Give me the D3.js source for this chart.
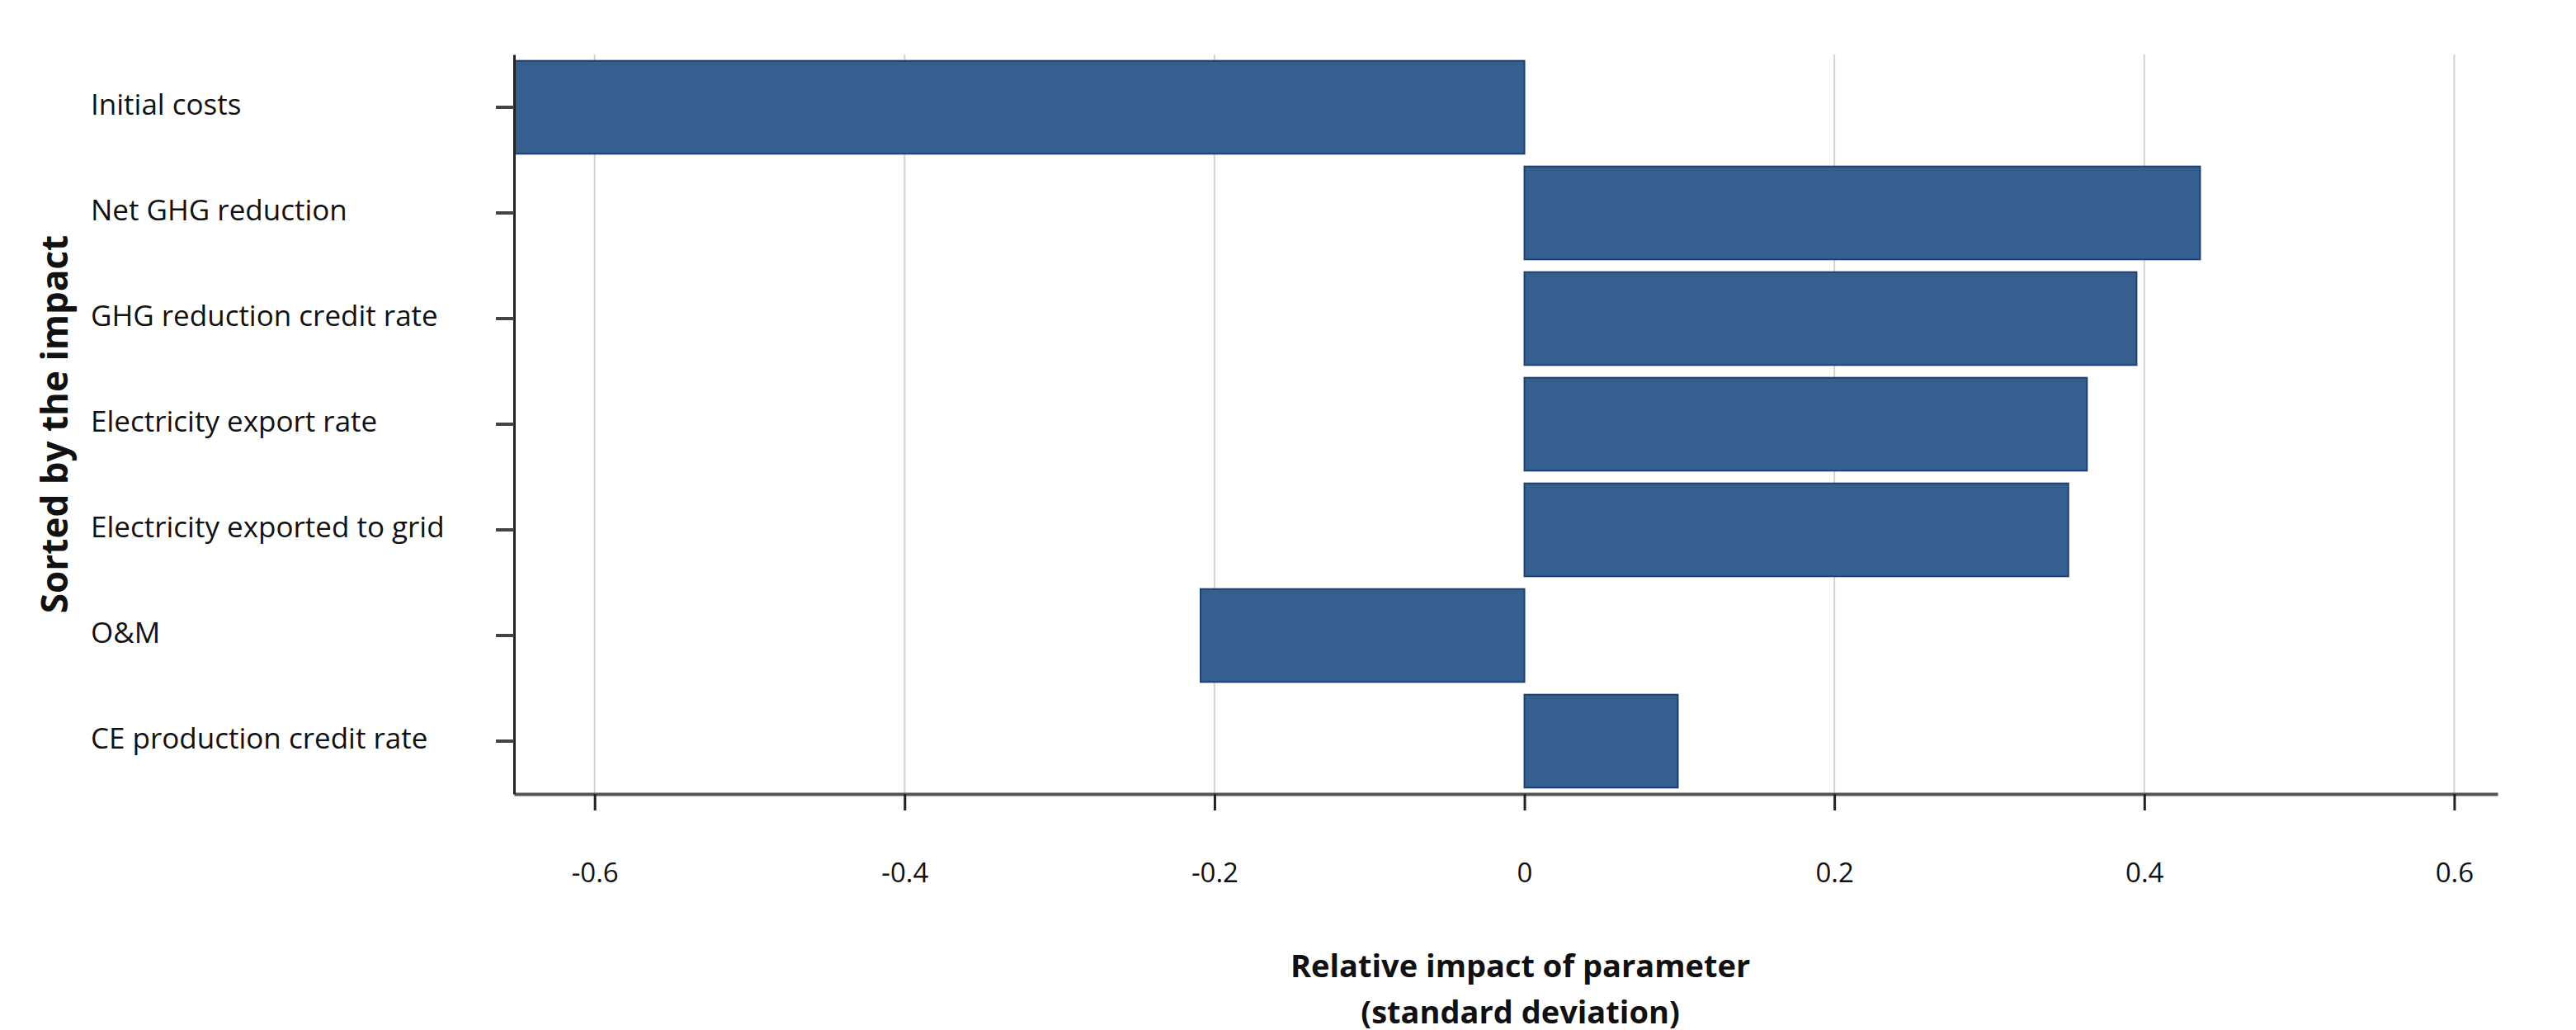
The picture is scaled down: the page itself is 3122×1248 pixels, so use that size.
<!DOCTYPE html>
<html>
<head>
<meta charset="utf-8">
<script src="https://cdn.jsdelivr.net/npm/d3@7"></script>
<style>
  body { margin: 0; background: #fff; }
  text { font-family: "Open Sans", "Noto Sans", sans-serif; }
</style>
</head>
<body>
<div id="chart"></div>
<script>
// Data
const parameters = ["Initial costs", "Net GHG reduction", "GHG reduction credit rate", "Electricity export rate", "Electricity exported to grid", "O&M", "CE production credit rate"];
const impacts = [-0.652, 0.436, 0.395, 0.363, 0.351, -0.209, 0.099];
const xTicks = [-0.6, -0.4, -0.2, 0, 0.2, 0.4, 0.6];

// Dimensions
const width = 3122;
const height = 1248;
const margin = {top: 66, right: 95, bottom: 286, left: 623};
const innerW = width - margin.left - margin.right;
const innerH = height - margin.top - margin.bottom;

const svg = d3.select("#chart")
  .append("svg")
    .attr("width", width)
    .attr("height", height);

const g = svg.append("g")
  .attr("transform", `translate(${margin.left}, ${margin.top})`);

// Scales
const x = d3.scaleLinear()
  .domain([-0.652, 0.628])
  .range([0, innerW]);
const y = d3.scaleBand()
  .domain(parameters)
  .range([0, innerH])
  .paddingInner(0.12)
  .paddingOuter(0.06);

// Grid lines
g.append("g")
  .selectAll("line")
  .data(xTicks.filter(d => d !== 0))
  .join("line")
    .attr("x1", d => x(d))
    .attr("x2", d => x(d))
    .attr("y1", 0)
    .attr("y2", innerH)
    .attr("stroke", "#d3d3d3")
    .attr("stroke-width", 2);

// Bars
const data = parameters.map((p, i) => ({name: p, value: impacts[i]}));
g.append("g")
  .selectAll("rect")
  .data(data)
  .join("rect")
    .attr("x", d => x(Math.min(0, d.value)))
    .attr("y", d => y(d.name))
    .attr("width", d => Math.abs(x(d.value) - x(0)))
    .attr("height", y.bandwidth())
    .attr("fill", "#365f8f")
    .attr("stroke", "#1d4073")
    .attr("stroke-width", 2);

// X axis
const xAxis = g.append("g")
  .attr("transform", `translate(0, ${innerH})`)
  .call(d3.axisBottom(x).tickValues(xTicks).tickSizeInner(20).tickSizeOuter(0).tickPadding(64)
    .tickFormat(d => d === 0 ? "0" : d3.format(".1f")(d).replace("−", "-")));
xAxis.select(".domain").attr("stroke", "#555").attr("stroke-width", 4);
xAxis.selectAll(".tick line").attr("stroke", "#222").attr("stroke-width", 3);
xAxis.selectAll(".tick text").attr("font-size", 33).attr("fill", "#111").attr("font-family", "Open Sans, sans-serif");

// Y axis
const yAxis = g.append("g")
  .call(d3.axisLeft(y).tickSizeInner(22).tickSizeOuter(0).tickFormat(""));
yAxis.select(".domain").attr("stroke", "#222").attr("stroke-width", 3);
yAxis.selectAll(".tick line").attr("stroke", "#444").attr("stroke-width", 4);

// Category labels
svg.append("g")
  .selectAll("text")
  .data(parameters)
  .join("text")
    .attr("x", 110)
    .attr("y", d => margin.top + y(d) + y.bandwidth() / 2)
    .attr("dominant-baseline", "middle")
    .attr("font-size", 35)
    .attr("fill", "#111")
    .text(d => d);

// Axis titles
const xTitle = svg.append("text")
  .attr("text-anchor", "middle")
  .attr("font-size", 38)
  .attr("font-weight", "bold")
  .attr("fill", "#111");
xTitle.append("tspan")
  .attr("x", margin.left + x(0) - 5)
  .attr("y", 1184)
  .text("Relative impact of parameter");
xTitle.append("tspan")
  .attr("x", margin.left + x(0) - 5)
  .attr("y", 1240)
  .text("(standard deviation)");

svg.append("text")
  .attr("transform", `translate(82, ${margin.top + innerH / 2}) rotate(-90)`)
  .attr("text-anchor", "middle")
  .attr("font-size", 44)
  .attr("font-family", "DejaVu Sans, sans-serif")
  .attr("font-weight", "bold")
  .attr("fill", "#111")
  .text("Sorted by the impact");
</script>
</body>
</html>
